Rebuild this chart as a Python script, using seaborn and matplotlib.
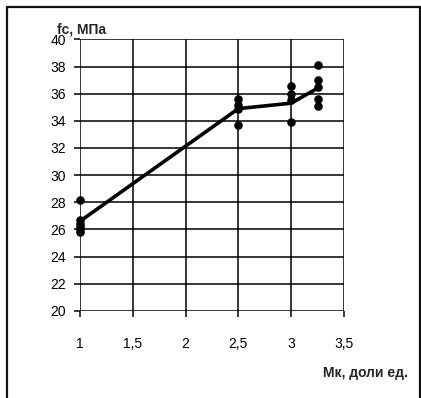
import matplotlib
matplotlib.use("Agg")
import matplotlib.pyplot as plt
from matplotlib.lines import Line2D
import seaborn as sns
import pandas as pd

# measured strength at each modulus value
mk_1 = [1.0] * 6
fc_1 = [28.2, 26.7, 26.4, 26.2, 26.0, 25.8]
mk_25 = [2.5] * 4
fc_25 = [35.6, 35.2, 34.9, 33.7]
mk_3 = [3.0] * 4
fc_3 = [36.6, 36.0, 35.5, 33.9]
mk_325 = [3.25] * 5
fc_325 = [38.1, 37.0, 36.5, 35.6, 35.1]

# trend line through the group averages
trend_mk = [1.0, 2.5, 3.0, 3.25]
trend_fc = [26.6, 34.9, 35.3, 36.4]

x_ticks = [1, 1.5, 2, 2.5, 3, 3.5]
x_labels = ["1", "1,5", "2", "2,5", "3", "3,5"]
y_ticks = list(range(20, 41, 2))

points = pd.DataFrame({
    "mk": mk_1 + mk_25 + mk_3 + mk_325,
    "fc": fc_1 + fc_25 + fc_3 + fc_325,
})
trend = pd.DataFrame({"mk": trend_mk, "fc": trend_fc})

sns.set_style("white")
plt.rcParams["font.family"] = ["Liberation Sans", "DejaVu Sans"]

W, H = 421, 398
fig = plt.figure(figsize=(W / 100, H / 100), dpi=100)
ax = fig.add_axes([0.190, 0.219, 0.627, 0.682])

sns.lineplot(data=trend, x="mk", y="fc", ax=ax, color="black",
             linewidth=2.6, zorder=3, clip_on=False)
sns.scatterplot(data=points, x="mk", y="fc", ax=ax, color="black",
                s=38, edgecolor="black", linewidth=0, zorder=4,
                clip_on=False)

ax.set_xlim(1, 3.5)
ax.set_ylim(20, 40)
ax.set_xticks(x_ticks)
ax.set_xticklabels(x_labels)
ax.set_yticks(y_ticks)
ax.set_xlabel("")
ax.set_ylabel("")

ax.grid(True, color="black", linewidth=1.1)
ax.set_axisbelow(True)
for side in ["top", "right", "bottom", "left"]:
    ax.spines[side].set_visible(False)

ax.tick_params(axis="both", which="major", direction="out", length=4,
               width=1.1, color="black", labelsize=10, labelcolor="black")
ax.tick_params(axis="x", pad=15)
ax.tick_params(axis="y", pad=6)
ax.tick_params(bottom=True, left=True)

fig.text(57 / W, 1 - 34 / H, "fc, МПа", fontsize=10, fontweight="bold",
         ha="left", va="baseline")
fig.text(408 / W, 1 - 373 / H, "Мк, доли ед.", fontsize=10,
         fontweight="bold", ha="right", va="center")

# frame around the figure (pixel coordinates from the top-left corner)
for xs, ys in [([6.5, 6.5], [7, H]), ([6.5, W], [7, 7]),
               ([419.5, 419.5], [7, H])]:
    fig.add_artist(Line2D([x / W for x in xs], [1 - y / H for y in ys],
                          color="#111111", linewidth=1.6))

fig.savefig("out.png", dpi=100)
